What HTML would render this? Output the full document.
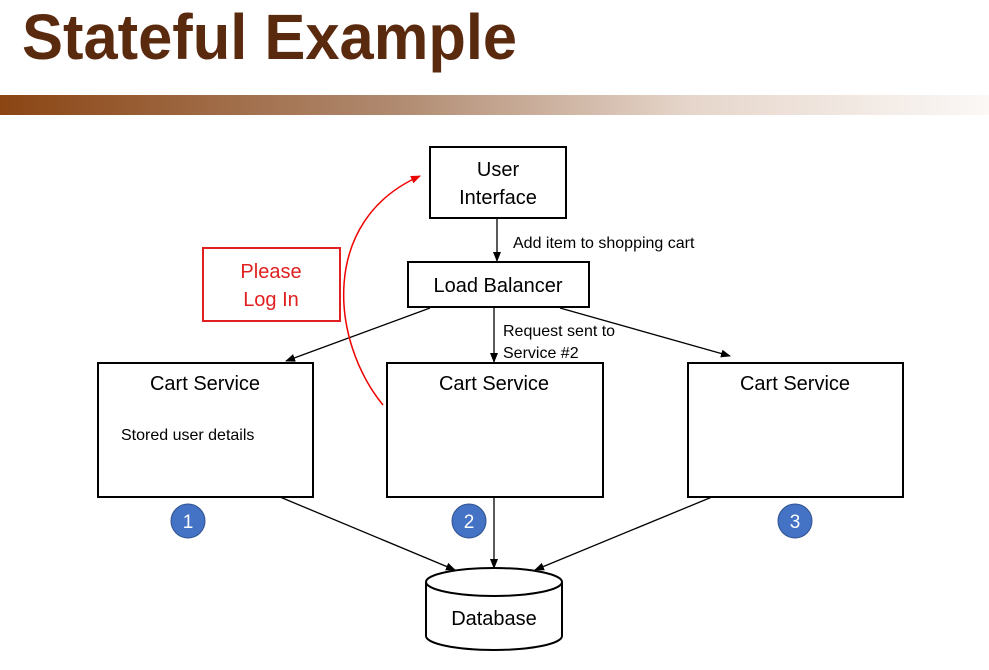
<!DOCTYPE html>
<html><head><meta charset="utf-8"><style>
body{margin:0;width:989px;height:670px;background:#fff;overflow:hidden;position:relative;font-family:"Liberation Sans",sans-serif}
.t{position:absolute;left:22px;top:0px;font-size:64px;font-weight:bold;color:#5a2a0f;transform:scaleX(0.96);transform-origin:left top;letter-spacing:0px}
.bar{position:absolute;left:0;top:95px;width:989px;height:20px;background:linear-gradient(to right,#8b4513,#b08a70 40%,#e6d6cb 70%,#fbf8f6)}
</style></head><body>
<div class="t">Stateful Example</div>
<div class="bar"></div>
<svg width="989" height="670" style="position:absolute;left:0;top:0" font-family="Liberation Sans, sans-serif">
<defs>
<marker id="a" markerWidth="10" markerHeight="8" refX="9" refY="4" orient="auto" markerUnits="userSpaceOnUse"><path d="M0,0 L10,4 L0,8z" fill="#000"/></marker>
<marker id="r" markerWidth="10" markerHeight="8" refX="9" refY="4" orient="auto" markerUnits="userSpaceOnUse"><path d="M0,0 L10,4 L0,8z" fill="#e00"/></marker>
</defs>
<g fill="#fff" stroke="#000" stroke-width="2">
<rect x="430" y="147" width="136" height="71"/>
<rect x="408" y="262" width="181" height="45"/>
<rect x="98" y="363" width="215" height="134"/>
<rect x="387" y="363" width="216" height="134"/>
<rect x="688" y="363" width="215" height="134"/>
<path d="M426,582 L426,636 A68,14 0 0 0 562,636 L562,582" />
<ellipse cx="494" cy="582" rx="68" ry="14"/>
</g>
<rect x="203" y="248" width="137" height="73" fill="none" stroke="#e02020" stroke-width="2"/>
<g stroke="#000" stroke-width="1.3" fill="none" marker-end="url(#a)">
<line x1="497" y1="218" x2="497" y2="261"/>
<line x1="430" y1="308" x2="286" y2="361"/>
<line x1="494" y1="308" x2="494" y2="362"/>
<line x1="560" y1="308" x2="730" y2="356"/>
<line x1="280" y1="497" x2="455" y2="570"/>
<line x1="494" y1="497" x2="494" y2="568"/>
<line x1="712" y1="497" x2="535" y2="570"/>
</g>
<path d="M383,405 C330,340 320,220 420,176" fill="none" stroke="#e00" stroke-width="1.5" marker-end="url(#r)"/>
<g font-size="20" text-anchor="middle" fill="#000">
<text x="498" y="176">User</text><text x="498" y="204">Interface</text>
<text x="498" y="292">Load Balancer</text>
<text x="205" y="390">Cart Service</text>
<text x="494" y="390">Cart Service</text>
<text x="795" y="390">Cart Service</text>
<text x="494" y="625">Database</text>
<text x="271" y="278" fill="#e02020">Please</text><text x="271" y="306" fill="#e02020">Log In</text>
</g>
<g font-size="16" fill="#000">
<text x="513" y="248">Add item to shopping cart</text>
<text x="503" y="336">Request sent to</text>
<text x="503" y="358">Service #2</text>
<text x="121" y="440">Stored user details</text>
</g>
<g fill="#4472c4" stroke="#2f528f" stroke-width="1">
<circle cx="188" cy="521" r="17"/><circle cx="469" cy="521" r="17"/><circle cx="795" cy="521" r="17"/>
</g>
<g font-size="19" fill="#fff" text-anchor="middle">
<text x="188" y="528">1</text><text x="469" y="528">2</text><text x="795" y="528">3</text>
</g>
</svg>
</body></html>
